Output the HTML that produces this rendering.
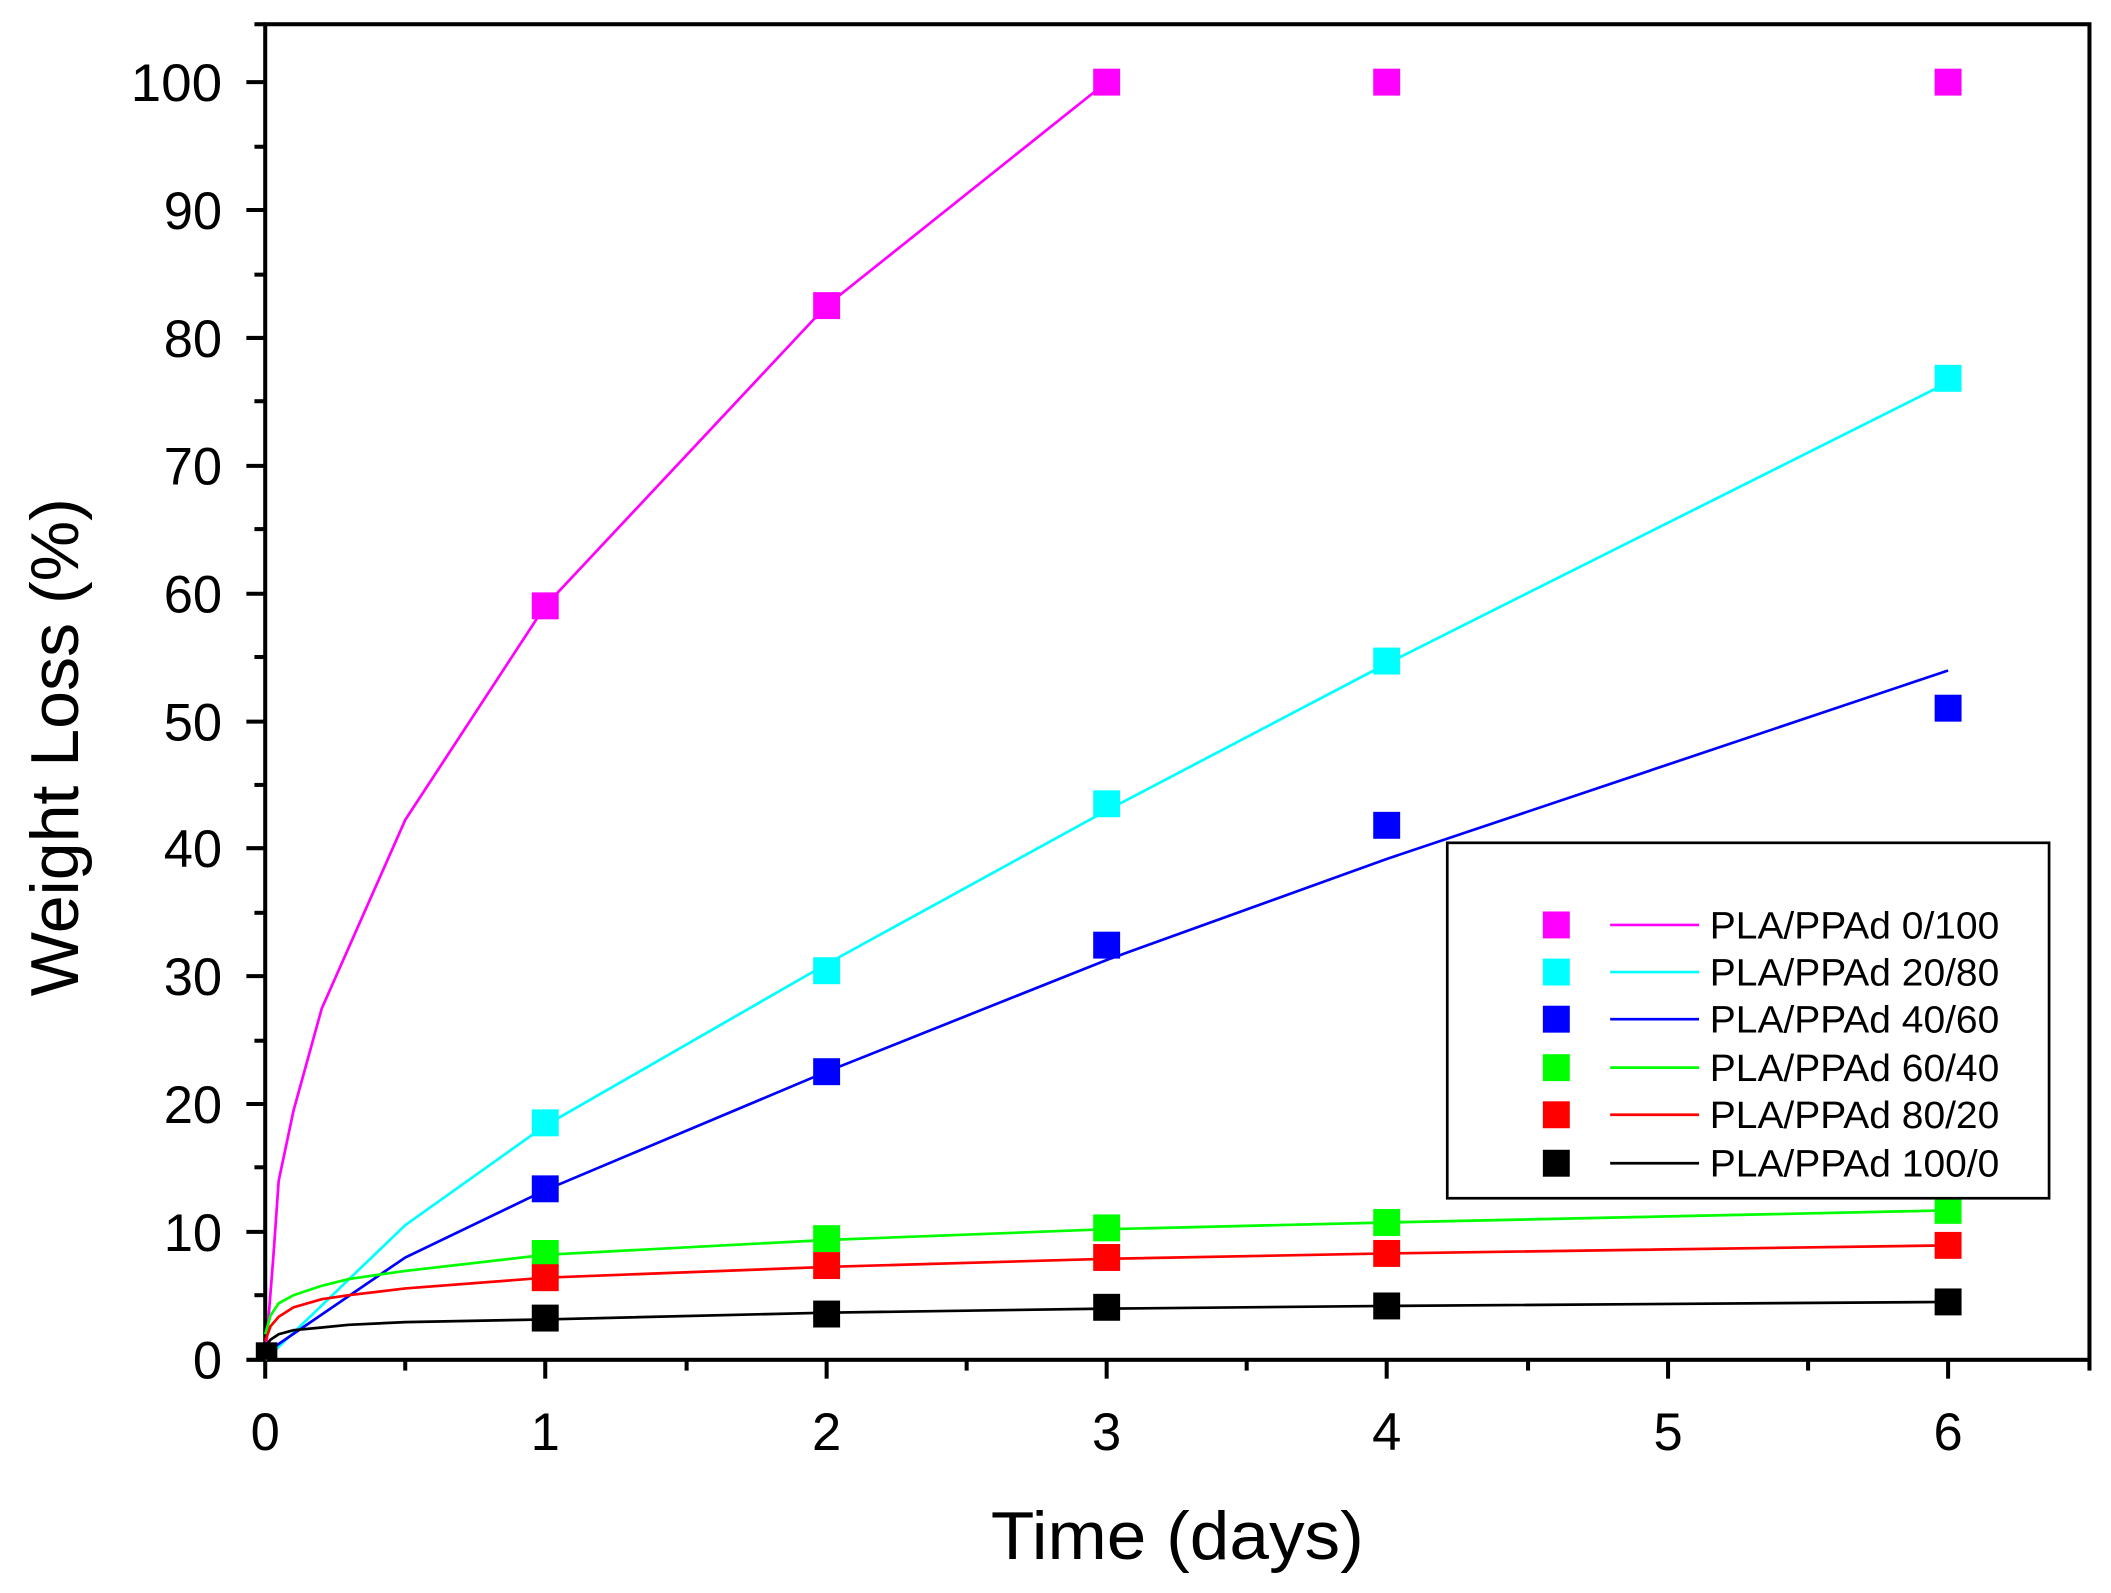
<!DOCTYPE html>
<html><head><meta charset="utf-8"><style>
html,body{margin:0;padding:0;background:#fff;}
svg{display:block;}
text{font-family:"Liberation Sans",Arial,sans-serif;fill:#000;}
</style></head><body>
<svg width="2111" height="1593" viewBox="0 0 1568 1183.2" preserveAspectRatio="none" xmlns="http://www.w3.org/2000/svg">
<rect x="0" y="0" width="1568" height="1184" fill="#fff"/>
<rect x="197" y="18" width="1355" height="992" fill="none" stroke="#000" stroke-width="3"/>
<g stroke="#000" stroke-width="3">
<line x1="197" y1="1010" x2="197" y2="1024"/><line x1="405" y1="1010" x2="405" y2="1024"/><line x1="614" y1="1010" x2="614" y2="1024"/><line x1="822" y1="1010" x2="822" y2="1024"/><line x1="1030" y1="1010" x2="1030" y2="1024"/><line x1="1239" y1="1010" x2="1239" y2="1024"/><line x1="1447" y1="1010" x2="1447" y2="1024"/>
<line x1="301" y1="1010" x2="301" y2="1018"/><line x1="510" y1="1010" x2="510" y2="1018"/><line x1="718" y1="1010" x2="718" y2="1018"/><line x1="926" y1="1010" x2="926" y2="1018"/><line x1="1135" y1="1010" x2="1135" y2="1018"/><line x1="1343" y1="1010" x2="1343" y2="1018"/><line x1="1552" y1="1010" x2="1552" y2="1018"/>
<line x1="183" y1="1010" x2="197" y2="1010"/><line x1="183" y1="915" x2="197" y2="915"/><line x1="183" y1="820" x2="197" y2="820"/><line x1="183" y1="725" x2="197" y2="725"/><line x1="183" y1="630" x2="197" y2="630"/><line x1="183" y1="536" x2="197" y2="536"/><line x1="183" y1="441" x2="197" y2="441"/><line x1="183" y1="346" x2="197" y2="346"/><line x1="183" y1="251" x2="197" y2="251"/><line x1="183" y1="156" x2="197" y2="156"/><line x1="183" y1="61" x2="197" y2="61"/>
<line x1="189" y1="962" x2="197" y2="962"/><line x1="189" y1="867" x2="197" y2="867"/><line x1="189" y1="773" x2="197" y2="773"/><line x1="189" y1="678" x2="197" y2="678"/><line x1="189" y1="583" x2="197" y2="583"/><line x1="189" y1="488" x2="197" y2="488"/><line x1="189" y1="393" x2="197" y2="393"/><line x1="189" y1="298" x2="197" y2="298"/><line x1="189" y1="204" x2="197" y2="204"/><line x1="189" y1="109" x2="197" y2="109"/><line x1="189" y1="18" x2="197" y2="18"/>
</g>
<g font-size="39" text-anchor="end">
<text x="165" y="1024">0</text><text x="165" y="929">10</text><text x="165" y="834">20</text><text x="165" y="739">30</text><text x="165" y="644">40</text><text x="165" y="550">50</text><text x="165" y="455">60</text><text x="165" y="360">70</text><text x="165" y="265">80</text><text x="165" y="170">90</text><text x="165" y="75" textLength="68" lengthAdjust="spacingAndGlyphs">100</text>
</g>
<g font-size="39" text-anchor="middle">
<text x="197" y="1077">0</text><text x="405" y="1077">1</text><text x="614" y="1077">2</text><text x="822" y="1077">3</text><text x="1030" y="1077">4</text><text x="1239" y="1077">5</text><text x="1447" y="1077">6</text>
</g>
<text x="736" y="1158" font-size="50" textLength="277" lengthAdjust="spacingAndGlyphs">Time (days)</text>
<text transform="translate(58,740) rotate(-90)" font-size="50" textLength="370" lengthAdjust="spacingAndGlyphs">Weight Loss (%)</text>
<g fill="none" stroke-width="2">
<polyline stroke="#ff00ff" points="197,1010 203,934 207,877 218,825 239,749 301,609 405,450 614,227 822,61"/>
<polyline stroke="#00ffff" points="197,1010 301,910 405,836 614,716 822,602 1030,493 1447,284"/>
<polyline stroke="#0000ff" points="197,1005 301,934 405,884 614,796 822,713 1030,638 1447,498"/>
<polyline stroke="#00ff00" points="197,991 201,977 207,968 218,962 239,955 259,950 301,944 405,932 614,921 822,913 1030,908 1447,899"/>
<polyline stroke="#ff0000" points="197,996 201,985 207,978 218,971 239,965 259,962 301,957 405,949 614,941 822,935 1030,931 1447,925"/>
<polyline stroke="#000000" points="197,1000 201,995 207,991 218,988 239,986 259,984 301,982 405,980 614,975 822,972 1030,970 1447,967"/>
</g>
<g fill="#ff00ff"><rect x="395" y="440" width="20" height="20"/><rect x="604" y="217" width="20" height="20"/><rect x="812" y="51" width="20" height="20"/><rect x="1020" y="51" width="20" height="20"/><rect x="1437" y="51" width="20" height="20"/></g>
<g fill="#00ffff"><rect x="395" y="824" width="20" height="20"/><rect x="604" y="711" width="20" height="20"/><rect x="812" y="587" width="20" height="20"/><rect x="1020" y="481" width="20" height="20"/><rect x="1437" y="271" width="20" height="20"/></g>
<g fill="#0000ff"><rect x="395" y="873" width="20" height="20"/><rect x="604" y="786" width="20" height="20"/><rect x="812" y="692" width="20" height="20"/><rect x="1020" y="603" width="20" height="20"/><rect x="1437" y="516" width="20" height="20"/></g>
<g fill="#00ff00"><rect x="395" y="921" width="20" height="20"/><rect x="604" y="910" width="20" height="20"/><rect x="812" y="902" width="20" height="20"/><rect x="1020" y="898" width="20" height="20"/><rect x="1437" y="889" width="20" height="20"/></g>
<g fill="#ff0000"><rect x="395" y="939" width="20" height="20"/><rect x="604" y="930" width="20" height="20"/><rect x="812" y="924" width="20" height="20"/><rect x="1020" y="921" width="20" height="20"/><rect x="1437" y="915" width="20" height="20"/></g>
<g fill="#000000"><rect x="395" y="969" width="20" height="20"/><rect x="604" y="966" width="20" height="20"/><rect x="812" y="961" width="20" height="20"/><rect x="1020" y="960" width="20" height="20"/><rect x="1437" y="957" width="20" height="20"/><rect x="190" y="997" width="16" height="13"/></g>
<rect x="1075" y="626" width="447" height="264" fill="#fff" stroke="#000" stroke-width="2"/>
<g>
<rect x="1146" y="677" width="20" height="20" fill="#ff00ff"/><line x1="1196" y1="687" x2="1262" y2="687" stroke="#ff00ff" stroke-width="2"/>
<rect x="1146" y="712" width="20" height="20" fill="#00ffff"/><line x1="1196" y1="722" x2="1262" y2="722" stroke="#00ffff" stroke-width="2"/>
<rect x="1146" y="747" width="20" height="20" fill="#0000ff"/><line x1="1196" y1="757" x2="1262" y2="757" stroke="#0000ff" stroke-width="2"/>
<rect x="1146" y="783" width="20" height="20" fill="#00ff00"/><line x1="1196" y1="793" x2="1262" y2="793" stroke="#00ff00" stroke-width="2"/>
<rect x="1146" y="818" width="20" height="20" fill="#ff0000"/><line x1="1196" y1="828" x2="1262" y2="828" stroke="#ff0000" stroke-width="2"/>
<rect x="1146" y="854" width="20" height="20" fill="#000000"/><line x1="1196" y1="864" x2="1262" y2="864" stroke="#000000" stroke-width="2"/>
</g>
<g font-size="28">
<text x="1270" y="697" textLength="215" lengthAdjust="spacingAndGlyphs">PLA/PPAd 0/100</text>
<text x="1270" y="732" textLength="215" lengthAdjust="spacingAndGlyphs">PLA/PPAd 20/80</text>
<text x="1270" y="767" textLength="215" lengthAdjust="spacingAndGlyphs">PLA/PPAd 40/60</text>
<text x="1270" y="803" textLength="215" lengthAdjust="spacingAndGlyphs">PLA/PPAd 60/40</text>
<text x="1270" y="838" textLength="215" lengthAdjust="spacingAndGlyphs">PLA/PPAd 80/20</text>
<text x="1270" y="874" textLength="215" lengthAdjust="spacingAndGlyphs">PLA/PPAd 100/0</text>
</g>
</svg>
</body></html>
